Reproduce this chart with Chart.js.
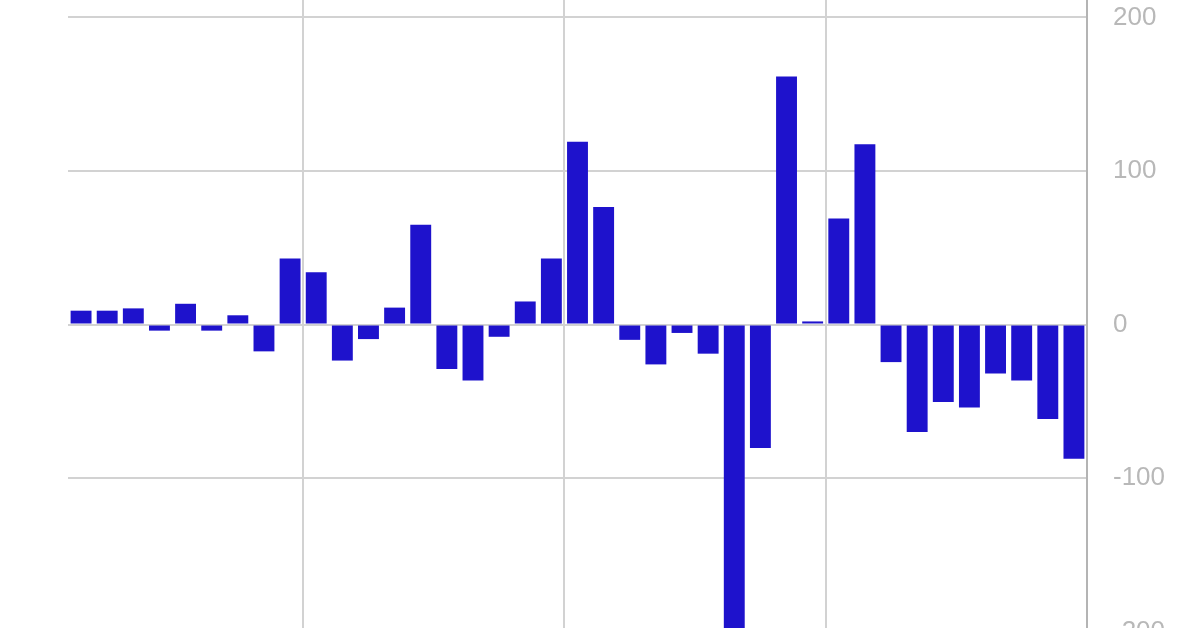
<!DOCTYPE html>
<html>
<head>
<meta charset="utf-8">
<script src="https://cdn.jsdelivr.net/npm/chart.js@4.4.1/dist/chart.umd.min.js"></script>
<style>
  html, body { margin: 0; padding: 0; width: 1200px; height: 628px; overflow: hidden; background: #fff; }
  #wrap { position: absolute; left: 0; top: -186px; width: 1200px; height: 1021px; }
</style>
</head>
<body>
<div id="wrap"><canvas id="barChart"></canvas></div>
<script>
const categories = [
  '1', '2', '3', '4', '5', '6', '7', '8', '9', '10',
  '11', '12', '13', '14', '15', '16', '17', '18', '19', '20',
  '21', '22', '23', '24', '25', '26', '27', '28', '29', '30',
  '31', '32', '33', '34', '35', '36', '37', '38', '39'
];
const values = [
  9, 9, 10.5, -4, 13.5, -4, 6, -17.5, 43, 34,
  -23.5, -9.5, 11, 65, -29, -36.5, -8, 15, 43, 119,
  76.5, -10, -26, -5.5, -19, -230, -80.5, 161.5, 2, 69,
  117.5, -24.5, -70, -50.5, -54, -32, -36.5, -61.5, -87.5
];
const yMin = -300;
const yMax = 300;
const yStep = 100;

const gridColor = '#d2d2d2';

function renderBarChart() {
  const ctx = document.getElementById('barChart').getContext('2d');

  const config = {
    type: 'bar',
    data: {
      labels: categories,
      datasets: [
        {
          data: values,
          backgroundColor: '#1e12cc',
          borderWidth: 0,
          categoryPercentage: 1,
          barPercentage: 0.8,
        },
      ],
    },
    options: {
      responsive: true,
      maintainAspectRatio: false,
      animation: false,
      devicePixelRatio: 1,
      layout: {
        padding: {left: 68, right: 0, top: 50, bottom: 50},
      },
      plugins: {
        legend: {display: false},
        tooltip: {enabled: false},
      },
      scales: {
        x: {
          ticks: {display: false},
          border: {display: false},
          grid: {
            offset: true,
            drawTicks: false,
            lineWidth: 2,
            // a line every ten bars
            color: (c) => (c.index % 10 === 9 ? gridColor : 'rgba(0,0,0,0)'),
          },
        },
        y: {
          position: 'right',
          min: yMin,
          max: yMax,
          afterFit: (scale) => {
            scale.width = 113;
          },
          ticks: {
            stepSize: yStep,
            padding: 26,
            color: '#b8b8b8',
            font: {family: "'Liberation Sans', Arial, sans-serif", size: 26},
          },
          border: {color: '#b4b4b4', width: 2},
          grid: {color: gridColor, lineWidth: 2, drawTicks: false},
        },
      },
    },
  };

  new Chart(ctx, config);
}

renderBarChart();
</script>
</body>
</html>
